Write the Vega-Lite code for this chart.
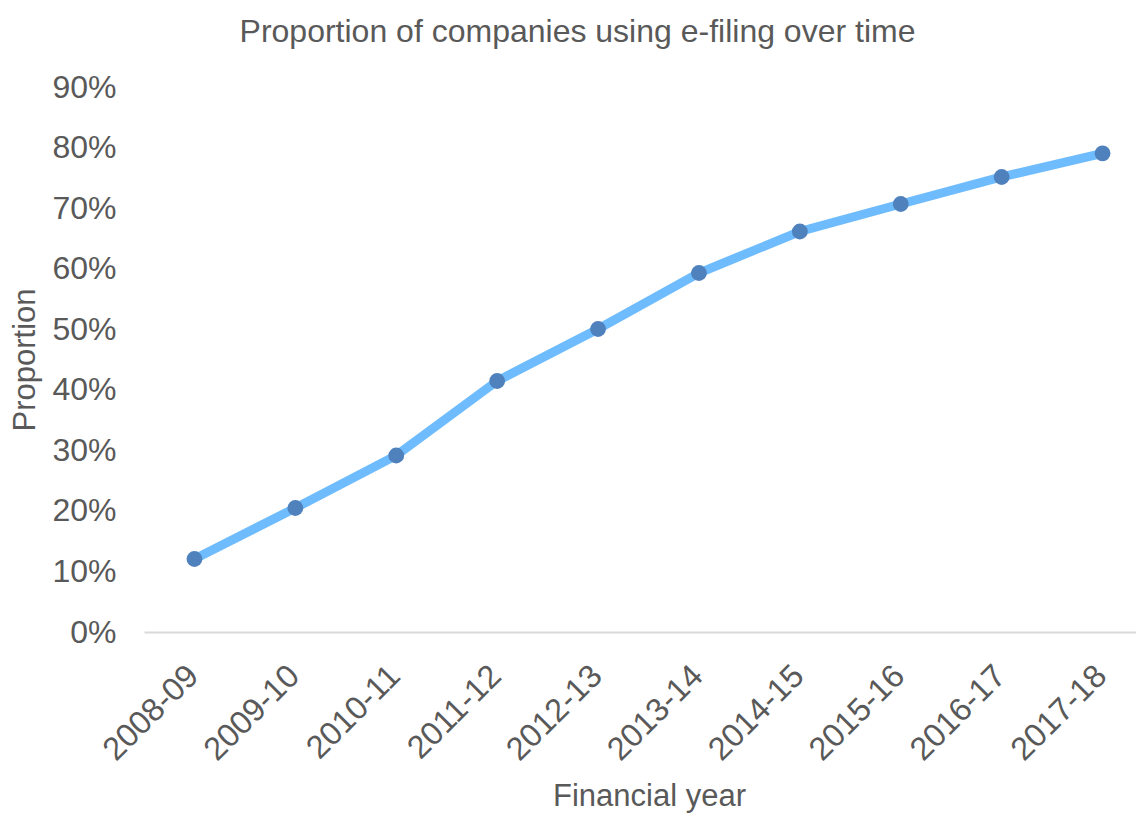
{
  "$schema": "https://vega.github.io/schema/vega-lite/v6.json",
  "autosize": {"type": "none"},
  "width": 1009,
  "height": 545,
  "padding": {"left": 144, "top": 87, "right": 0, "bottom": 182},
  "background": "white",
  "title": {
    "text": "Proportion of companies using e-filing over time",
    "font": "Liberation Sans",
    "fontSize": 32,
    "fontWeight": "normal",
    "color": "#595959",
    "anchor": "middle",
    "dx": -71,
    "offset": 22
  },
  "data": {
    "values": [
      {"year": "2008-09", "proportion": 0.1206},
      {"year": "2009-10", "proportion": 0.2048},
      {"year": "2010-11", "proportion": 0.2915},
      {"year": "2011-12", "proportion": 0.4145},
      {"year": "2012-13", "proportion": 0.5004},
      {"year": "2013-14", "proportion": 0.5928},
      {"year": "2014-15", "proportion": 0.6614},
      {"year": "2015-16", "proportion": 0.7068},
      {"year": "2016-17", "proportion": 0.7514},
      {"year": "2017-18", "proportion": 0.7905}
    ]
  },
  "encoding": {
    "x": {
      "field": "year",
      "type": "ordinal",
      "sort": null,
      "scale": {"type": "point", "padding": 0.5},
      "axis": {
        "title": "Financial year",
        "labelAngle": -45,
        "labelFontSize": 32.5,
        "labelColor": "#595959",
        "labelFont": "Liberation Sans",
        "labelPadding": 27,
        "labelOffset": -13,
        "ticks": false,
        "domainColor": "#d9d9d9",
        "domainWidth": 2,
        "grid": false,
        "titleFont": "Liberation Sans",
        "titleFontSize": 31,
        "titleFontWeight": "normal",
        "titleColor": "#595959",
        "titlePadding": 15,
        "titleX": 505
      }
    },
    "y": {
      "field": "proportion",
      "type": "quantitative",
      "scale": {"domain": [0, 0.9], "nice": false},
      "axis": {
        "title": "Proportion",
        "format": ".0%",
        "values": [0, 0.1, 0.2, 0.3, 0.4, 0.5, 0.6, 0.7, 0.8, 0.9],
        "labelFontSize": 32,
        "labelColor": "#595959",
        "labelFont": "Liberation Sans",
        "labelPadding": 28,
        "ticks": false,
        "domain": false,
        "grid": false,
        "titleFont": "Liberation Sans",
        "titleFontSize": 31,
        "titleFontWeight": "normal",
        "titleColor": "#595959",
        "titlePadding": 10
      }
    }
  },
  "layer": [
    {
      "mark": {"type": "line", "color": "#6ebcfd", "strokeWidth": 9, "strokeCap": "round"}
    },
    {
      "mark": {"type": "point", "filled": true, "color": "#4f81bd", "opacity": 1, "size": 250}
    }
  ],
  "config": {"view": {"stroke": null}}
}
